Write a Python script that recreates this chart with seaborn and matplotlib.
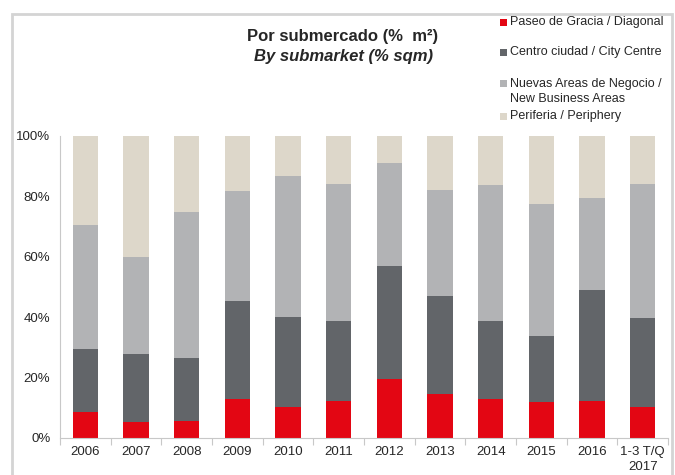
import matplotlib
matplotlib.use("Agg")
import matplotlib.pyplot as plt
from matplotlib.patches import Rectangle
import seaborn as sns
import pandas as pd
import numpy as np

# Data (% of take-up in sqm)
periods = ['2006', '2007', '2008', '2009', '2010', '2011', '2012',
           '2013', '2014', '2015', '2016', '1-3 T/Q\n2017']
paseo_gracia = [8.5, 5.3, 5.6, 12.8, 10.4, 12.3, 19.4, 14.7, 12.8, 12.0, 12.3, 10.4]
centro_ciudad = [21.0, 22.5, 20.8, 32.5, 29.8, 26.3, 37.6, 32.4, 25.8, 21.7, 36.7, 29.2]
nuevas_areas = [41.0, 32.2, 48.4, 36.6, 46.6, 45.4, 34.2, 35.0, 45.1, 43.9, 30.5, 44.6]
periferia = [29.5, 40.0, 25.2, 18.1, 13.2, 16.0, 8.8, 17.9, 16.3, 22.4, 20.5, 15.8]

series_names = ['Paseo de Gracia / Diagonal', 'Centro ciudad / City Centre',
                'Nuevas Areas de Negocio /\nNew Business Areas', 'Periferia / Periphery']
colors = ['#E30613', '#626569', '#B2B3B5', '#DDD7CA']

df = pd.DataFrame({'period': periods, 's0': paseo_gracia, 's1': centro_ciudad,
                   's2': nuevas_areas, 's3': periferia})
# cumulative tops for stacking
cum = df[['s0', 's1', 's2', 's3']].cumsum(axis=1)
cum['period'] = df['period']

sns.set_theme(style='white')
plt.rcParams['font.family'] = ['Liberation Sans', 'DejaVu Sans']

fig = plt.figure(figsize=(6.75, 4.75), dpi=100)
ax = fig.add_axes([60 / 675, 1 - 438 / 475, 608 / 675, 302 / 475])

# draw back to front so each cumulative bar shows its own segment
for i in [3, 2, 1, 0]:
    sns.barplot(data=cum, x='period', y='s%d' % i, color=colors[i],
                width=0.5, saturation=1, ax=ax, edgecolor='none')

ax.set_xlim(-0.5, len(periods) - 0.5)
ax.set_ylim(0, 100)
ax.set_xlabel('')
ax.set_ylabel('')
ax.set_yticks(np.arange(0, 101, 20))
ax.set_yticklabels(['%d%%' % v for v in range(0, 101, 20)], fontsize=9.5)
ax.set_xticks(range(len(periods)))
ax.set_xticklabels(periods, fontsize=9.5, va='top', linespacing=1.25)
ax.set_xticks(np.arange(-0.5, len(periods), 1), minor=True)
ax.tick_params(axis='x', which='major', length=0, pad=6)
ax.tick_params(axis='x', which='minor', length=5, color='#c8c8c8', width=0.8,
               direction='out', bottom=True)
ax.tick_params(axis='y', length=0, pad=7)
for s in ['top', 'right']:
    ax.spines[s].set_visible(False)
for s in ['left', 'bottom']:
    ax.spines[s].set_color('#c8c8c8')
    ax.spines[s].set_linewidth(0.8)

# outer frame
fig.patches.append(Rectangle((12 / 675, -0.05), 660 / 675, 1.05 - 14 / 475,
                             transform=fig.transFigure, fill=False,
                             edgecolor='#d4d4d4', linewidth=2))

# titles
fig.text(343 / 675, 1 - 37 / 475, 'Por submercado (%  m²)', ha='center',
         va='center', fontsize=12, fontweight='bold')
fig.text(343 / 675, 1 - 57 / 475, 'By submarket (% sqm)', ha='center',
         va='center', fontsize=12, fontweight='bold', style='italic')

# legend drawn by hand (uneven spacing as in the reference)
legend_y = [22, 52, 91.5, 116]
for name, col, y in zip(series_names, colors, legend_y):
    first_line_y = y if '\n' not in name else y - 8.5
    fig.patches.append(Rectangle((500 / 675, 1 - (first_line_y + 3.5) / 475),
                                 7 / 675, 7 / 475, transform=fig.transFigure,
                                 facecolor=col, edgecolor='none'))
    fig.text(510 / 675, 1 - y / 475, name, ha='left', va='center',
             fontsize=9, linespacing=1.25)

fig.savefig('out.png', dpi=100)
